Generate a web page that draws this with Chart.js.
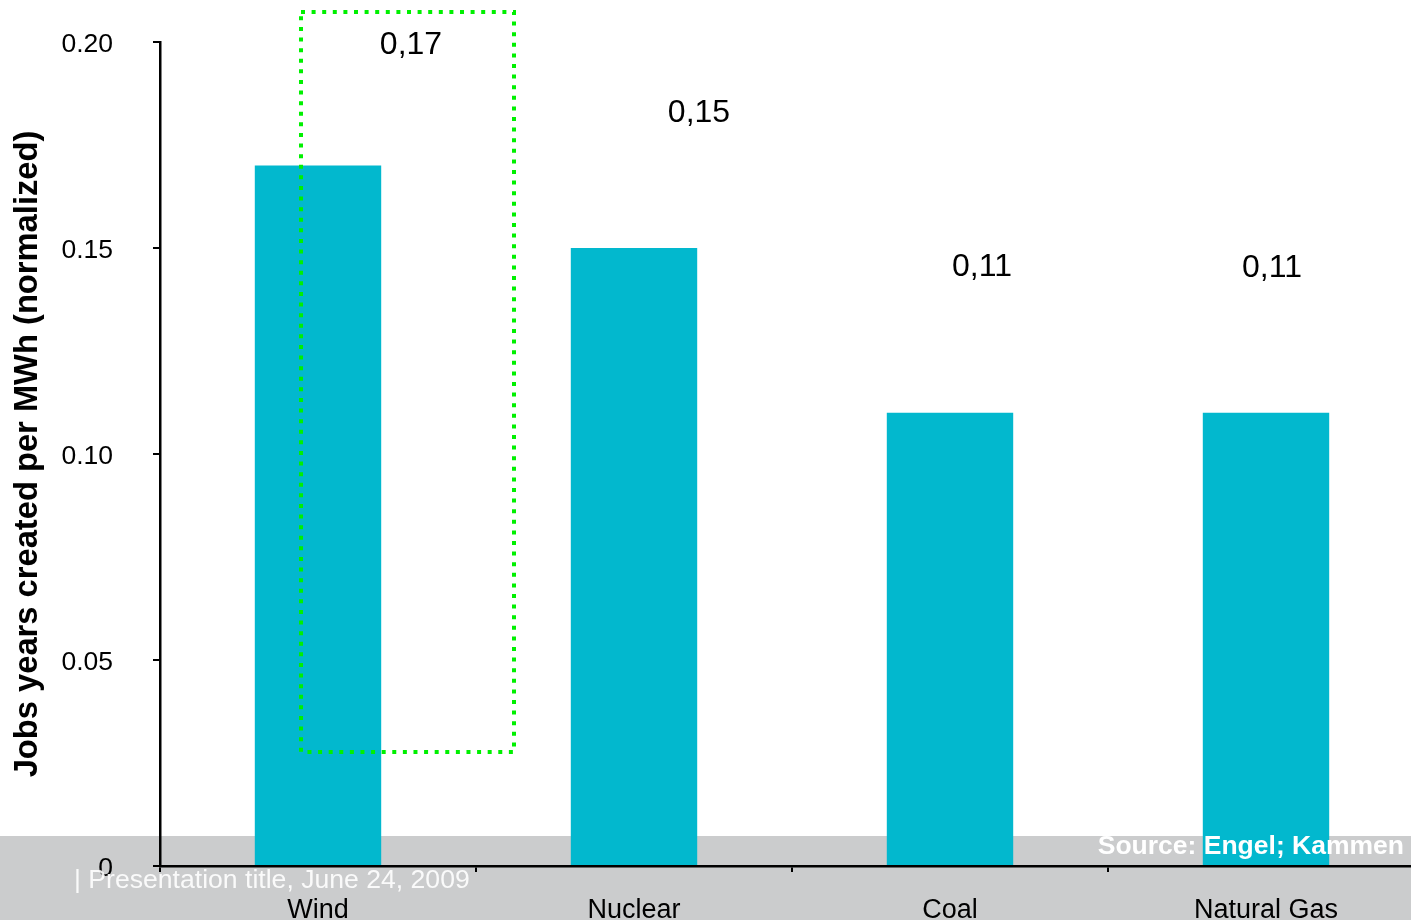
<!DOCTYPE html>
<html>
<head>
<meta charset="utf-8">
<title>Jobs per MWh</title>
<script src="https://cdn.jsdelivr.net/npm/chart.js@4"></script>
<style>
  html, body { margin: 0; padding: 0; background: #fff; overflow: hidden; }
  #wrap { position: absolute; left: 0; top: 0; width: 1430px; height: 920px; }
</style>
</head>
<body>
<div id="wrap"><canvas id="jobsChart" width="1430" height="920"></canvas></div>
<script>
// energy sources and job-years per MWh
var categories = ['Wind', 'Nuclear', 'Coal', 'Natural Gas'];
var jobValues = [0.17, 0.15, 0.11, 0.11];
var valueLabels = ['0,17', '0,15', '0,11', '0,11'];
var yTicks = [0, 0.05, 0.10, 0.15, 0.20];

var FONT = "'Liberation Sans', Arial, Helvetica, sans-serif";

// where each value label sits relative to the top of its bar (px)
var labelOffsets = [[93, -120], [65, -135], [32, -146], [6, -145]];

var footerBand = {
    id: 'footerBand',
    beforeDraw: function (chart) {
        var ctx = chart.ctx;
        ctx.save();
        ctx.fillStyle = '#cbcccd';
        ctx.fillRect(0, 836, chart.width, chart.height - 836);
        ctx.restore();
    }
};

var overlays = {
    id: 'overlays',
    afterDraw: function (chart) {
        var ctx = chart.ctx;
        var meta = chart.getDatasetMeta(0);
        var x = chart.scales.x, y = chart.scales.y;
        ctx.save();

        // value labels
        ctx.font = '32px ' + FONT;
        ctx.fillStyle = '#000';
        ctx.textAlign = 'center';
        ctx.textBaseline = 'middle';
        meta.data.forEach(function (bar, i) {
            ctx.fillText(valueLabels[i], bar.x + labelOffsets[i][0], bar.y + labelOffsets[i][1]);
        });

        // dotted highlight around Wind
        var cx = x.getPixelForValue(0);
        var left = cx - 17, right = cx + 196;
        var top = y.getPixelForValue(0.20) - 30;
        var bottom = y.getPixelForValue(0.0277);
        ctx.strokeStyle = '#00f000';
        ctx.lineWidth = 4;
        ctx.setLineDash([4, 6.6]);
        ctx.strokeRect(left, top, right - left, bottom - top);
        ctx.setLineDash([]);

        // footer texts
        ctx.textBaseline = 'middle';
        ctx.textAlign = 'left';
        ctx.fillStyle = 'rgba(255,255,255,0.9)';
        ctx.font = '26.6px ' + FONT;
        ctx.fillText('| Presentation title, June 24, 2009', 74, 881);

        ctx.textAlign = 'right';
        ctx.fillStyle = '#fff';
        ctx.font = 'bold 26.5px ' + FONT;
        ctx.fillText('Source: Engel; Kammen', 1404, 847);
        ctx.restore();
    }
};

var ctx = document.getElementById('jobsChart').getContext('2d');
var jobsChart = new Chart(ctx, {
    type: 'bar',
    data: {
        labels: categories,
        datasets: [{
            label: 'Jobs',
            data: jobValues,
            backgroundColor: '#02b8ce',
            borderWidth: 0,
            barPercentage: 0.4,
            categoryPercentage: 1.0
        }]
    },
    options: {
        responsive: false,
        animation: false,
        devicePixelRatio: 1,
        layout: { padding: { top: 42, right: 6, bottom: 0, left: 0 } },
        plugins: {
            legend: { display: false },
            tooltip: { enabled: false }
        },
        scales: {
            x: {
                grid: { drawOnChartArea: false, tickLength: 6, color: '#000', lineWidth: 2, offset: true },
                border: { color: '#000', width: 2.5 },
                ticks: { color: '#000', font: { family: FONT, size: 27 }, padding: 22, maxRotation: 0 },
                afterFit: function (scale) { scale.height = 54; }
            },
            y: {
                min: 0,
                max: 0.20,
                afterBuildTicks: function (scale) {
                    scale.ticks = yTicks.map(function (v) { return { value: v }; });
                },
                grid: { drawOnChartArea: false, tickLength: 7, color: '#000', lineWidth: 2 },
                border: { color: '#000', width: 2.5 },
                ticks: {
                    color: '#000',
                    font: { family: FONT, size: 26.5 },
                    padding: 40,
                    labelOffset: 3,
                    callback: function (v) { return v === 0 ? '0' : v.toFixed(2); }
                },
                title: {
                    display: true,
                    text: 'Jobs years created per MWh (normalized)',
                    color: '#000',
                    font: { family: FONT, size: 32.7, weight: 'bold' },
                    padding: { top: 8, bottom: 0 }
                },
                afterFit: function (scale) {
                    scale.width = 160;
                    // tick padding should not push the plot area in
                    scale.paddingTop = 0;
                    scale.paddingBottom = 0;
                }
            }
        }
    },
    plugins: [footerBand, overlays]
});
</script>
</body>
</html>
